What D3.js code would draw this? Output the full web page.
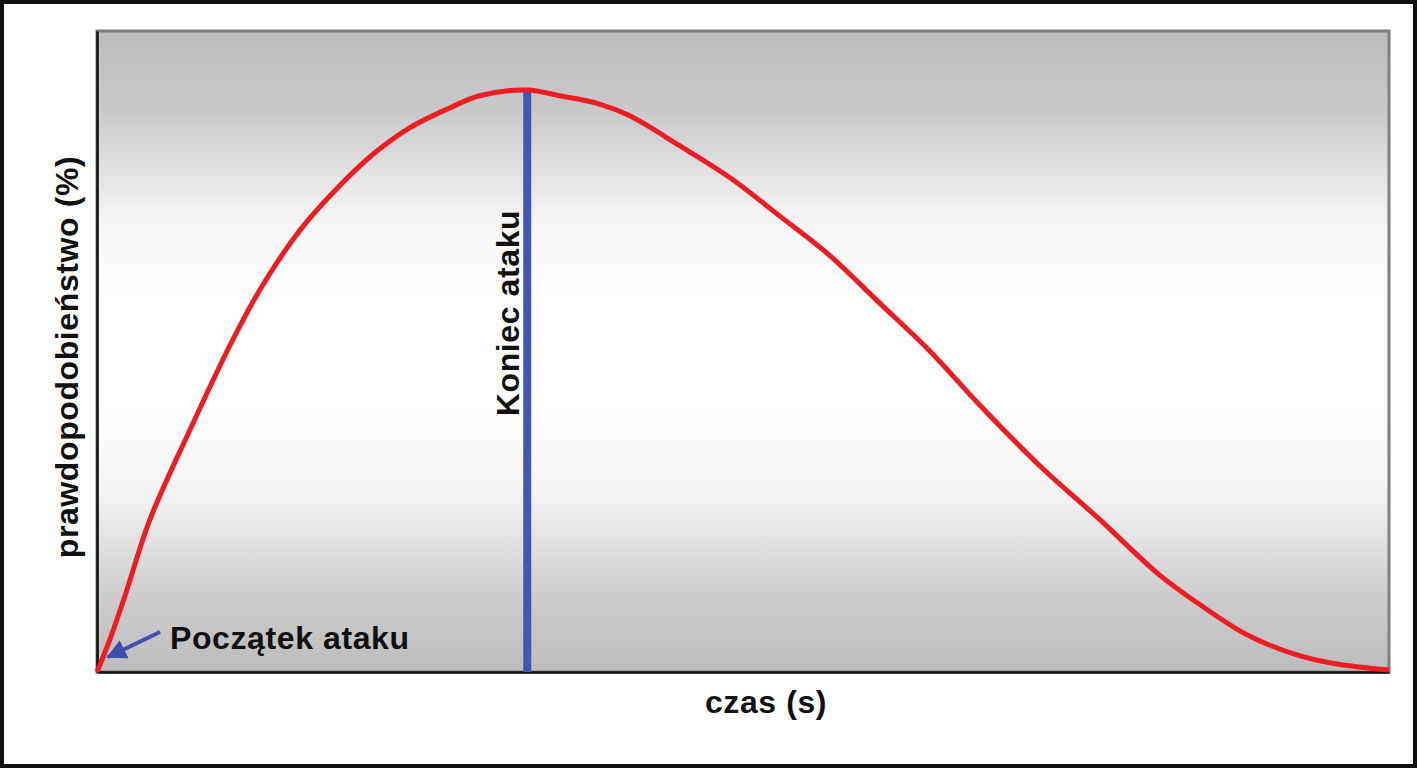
<!DOCTYPE html>
<html><head><meta charset="utf-8">
<script src="https://cdn.jsdelivr.net/npm/d3@7"></script>
<style>html,body{margin:0;padding:0;background:#fff;overflow:hidden}</style>
</head><body>
<script>
// Data (normalised time 0-100, probability 0-100)
const timeValues = [0, 1.0, 2.2, 4.1, 7.2, 10.3, 12.6, 15.7, 18.8, 21.5, 24.2, 27.3, 29.6, 33.3, 35.8, 38.9, 41.2, 45.1, 49.0, 52.8, 56.7, 60.6, 64.4, 68.3, 72.9, 77.6, 82.2, 85.3, 89.2, 93.0, 96.1, 100];
const probValues = [0, 5.1, 12.1, 23.8, 37.8, 51.0, 59.6, 68.9, 75.9, 81.0, 84.9, 88.0, 89.9, 90.8, 89.9, 88.6, 86.8, 82.1, 77.1, 71.2, 65.0, 57.5, 50.2, 41.7, 32.3, 23.8, 15.2, 10.6, 5.6, 2.6, 1.2, 0.3];
const attackEnd = 33.3;
const attackEndLabel = "Koniec ataku";
const attackStartLabel = "Początek ataku";
const xLabel = "czas (s)";
const yLabel = "prawdopodobieństwo (%)";

(function () {
const W = 1417, H = 768;
const pLeft = 97, pRight = 1389, pTop = 31, pBottom = 672;
const svg = d3.select("body").append("svg").attr("width", W).attr("height", H);

const x = d3.scaleLinear().domain([0, 100]).range([pLeft, pRight]);
const y = d3.scaleLinear().domain([0, 100]).range([pBottom, pTop]);

// outer border
svg.append("rect").attr("x", 2).attr("y", 2).attr("width", W - 4).attr("height", H - 4)
  .attr("fill", "#fff").attr("stroke", "#111").attr("stroke-width", 4);

const defs = svg.append("defs");
const g = defs.append("linearGradient").attr("id", "bg").attr("x1", 0).attr("y1", 0).attr("x2", 0).attr("y2", 1);
[[0, "#bcbcbc"], [0.12, "#c8c8c8"], [0.3, "#f6f6f6"], [0.42, "#ffffff"], [0.58, "#ffffff"], [0.72, "#f4f4f4"], [0.88, "#cdcdcd"], [1, "#bcbcbc"]]
  .forEach(([o, c]) => g.append("stop").attr("offset", o).attr("stop-color", c));

svg.append("rect").attr("x", pLeft).attr("y", pTop).attr("width", pRight - pLeft).attr("height", pBottom - pTop)
  .attr("fill", "url(#bg)").attr("stroke", "#7f7f7f").attr("stroke-width", 3);

// axes lines (left & bottom, black)
svg.append("g").attr("transform", `translate(${pLeft},0)`)
  .call(d3.axisLeft(y).tickValues([]).tickSizeOuter(0))
  .call(s => s.select(".domain").attr("stroke", "#111").attr("stroke-width", 2.5));
svg.append("g").attr("transform", `translate(0,${pBottom})`)
  .call(d3.axisBottom(x).tickValues([]).tickSizeOuter(0))
  .call(s => s.select(".domain").attr("stroke", "#111").attr("stroke-width", 2.5));

// end of attack line
svg.append("line").attr("x1", x(attackEnd)).attr("x2", x(attackEnd))
  .attr("y1", y(d3.max(probValues)) - 1).attr("y2", pBottom)
  .attr("stroke", "#4257b2").attr("stroke-width", 8);

// curve
const data = timeValues.map((t, i) => [t, probValues[i]]);
svg.append("path").datum(data)
  .attr("d", d3.line().x(d => x(d[0])).y(d => y(d[1])).curve(d3.curveCatmullRom.alpha(0.5)))
  .attr("fill", "none").attr("stroke", "#ee1c25").attr("stroke-width", 5).attr("stroke-linejoin", "round");

const font = "'Liberation Sans', Arial, sans-serif";
const fs = 32, ls = 0.6;
// Koniec ataku label
svg.append("text").attr("transform", `translate(${x(attackEnd) - 8},313) rotate(-90)`)
  .attr("text-anchor", "middle").attr("font-family", font).attr("font-weight", "bold")
  .attr("font-size", fs).attr("letter-spacing", ls).attr("fill", "#111").text(attackEndLabel);

// start arrow
defs.append("marker").attr("id", "arr").attr("viewBox", "0 0 10 10").attr("refX", 9).attr("refY", 5)
  .attr("markerWidth", 5).attr("markerHeight", 5).attr("orient", "auto").attr("markerUnits", "strokeWidth")
  .append("path").attr("d", "M0,0 L10,5 L0,10 z").attr("fill", "#3f4fb0");
svg.append("line").attr("x1", 160).attr("y1", 632).attr("x2", 108).attr("y2", 657)
  .attr("stroke", "#3f4fb0").attr("stroke-width", 4).attr("marker-end", "url(#arr)");
svg.append("text").attr("x", 170).attr("y", 649).attr("font-family", font).attr("font-weight", "bold")
  .attr("font-size", fs).attr("letter-spacing", ls).attr("fill", "#111").text(attackStartLabel);

// axis titles
svg.append("text").attr("x", 766).attr("y", 713).attr("text-anchor", "middle").attr("font-family", font)
  .attr("font-weight", "bold").attr("font-size", fs).attr("letter-spacing", ls).attr("fill", "#111").text(xLabel);
svg.append("text").attr("transform", `translate(78,357) rotate(-90)`).attr("text-anchor", "middle")
  .attr("font-family", font).attr("font-weight", "bold").attr("font-size", fs).attr("letter-spacing", ls)
  .attr("fill", "#111").text(yLabel);
})();
</script>
</body></html>
